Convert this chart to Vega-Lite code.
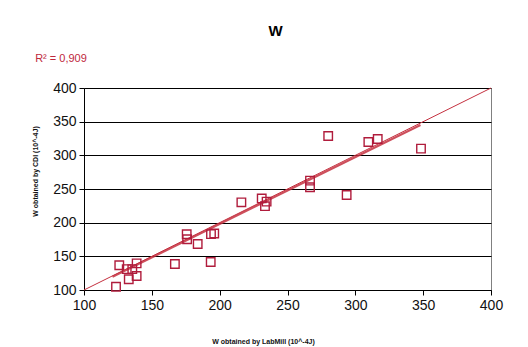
{
  "$schema": "https://vega.github.io/schema/vega-lite/v6.json",
  "width": 407,
  "height": 202,
  "autosize": "none",
  "padding": {"left": 84, "top": 88, "right": 37, "bottom": 57},
  "background": "white",
  "config": {
    "view": {"stroke": "#808080", "strokeWidth": 1},
    "font": "Liberation Sans"
  },
  "title": {
    "text": "W",
    "fontSize": 15,
    "fontWeight": "bold",
    "color": "#000000",
    "anchor": "middle",
    "dx": -12,
    "offset": 14
  },
  "datasets": {
    "points": [
      {"labmill": 123.6, "cdi": 104.9},
      {"labmill": 126, "cdi": 136.7},
      {"labmill": 131.5, "cdi": 131},
      {"labmill": 133, "cdi": 116},
      {"labmill": 135.6, "cdi": 131},
      {"labmill": 138.8, "cdi": 139.6},
      {"labmill": 138.8, "cdi": 120.8},
      {"labmill": 167, "cdi": 138.6},
      {"labmill": 175.7, "cdi": 182.7},
      {"labmill": 176, "cdi": 175.4},
      {"labmill": 183.8, "cdi": 168.3},
      {"labmill": 193.4, "cdi": 141.6},
      {"labmill": 193.6, "cdi": 183},
      {"labmill": 196, "cdi": 184},
      {"labmill": 216, "cdi": 230.2},
      {"labmill": 231, "cdi": 236},
      {"labmill": 233.4, "cdi": 224.5},
      {"labmill": 234.6, "cdi": 231.2},
      {"labmill": 266.6, "cdi": 262.4},
      {"labmill": 266.6, "cdi": 252.5},
      {"labmill": 280, "cdi": 328.7},
      {"labmill": 293.6, "cdi": 241},
      {"labmill": 309.6, "cdi": 319.8},
      {"labmill": 316.5, "cdi": 324.3},
      {"labmill": 348.4, "cdi": 309.9}
    ],
    "identity": [
      {"labmill": 100, "cdi": 100},
      {"labmill": 400, "cdi": 400}
    ],
    "trend": [
      {"labmill": 121, "cdi": 119.6},
      {"labmill": 348, "cdi": 345}
    ],
    "note": [
      {"label": "R² = 0,909", "labmill": 64, "cdi": 443}
    ]
  },
  "encoding": {
    "x": {
      "field": "labmill",
      "type": "quantitative",
      "scale": {"domain": [100, 400], "nice": false, "zero": false},
      "axis": {
        "title": "W obtained by LabMill (10^-4J)",
        "values": [100, 150, 200, 250, 300, 350, 400],
        "grid": false,
        "labelFlush": false,
        "domainColor": "#000000",
        "tickColor": "#000000",
        "tickSize": 5,
        "labelFontSize": 14,
        "labelColor": "#111111",
        "labelPadding": 3,
        "titleFontSize": 7,
        "titleFontWeight": "bold",
        "titleColor": "#111111",
        "titleX": 179,
        "titleY": 47
      }
    },
    "y": {
      "field": "cdi",
      "type": "quantitative",
      "scale": {"domain": [100, 400], "nice": false, "zero": false},
      "axis": {
        "title": "W obtained by CDI (10^-4J)",
        "values": [100, 150, 200, 250, 300, 350, 400],
        "grid": true,
        "labelFlush": false,
        "gridColor": "#000000",
        "gridWidth": 1,
        "domainColor": "#000000",
        "tickColor": "#000000",
        "tickSize": 5,
        "labelFontSize": 14,
        "labelColor": "#111111",
        "labelPadding": 3,
        "titleFontSize": 7,
        "titleFontWeight": "bold",
        "titleColor": "#111111",
        "titleAngle": -90,
        "titleX": -46,
        "titleY": 83
      }
    }
  },
  "layer": [
    {
      "data": {"name": "identity"},
      "mark": {"type": "line", "color": "#c4303f", "strokeWidth": 1},
      "encoding": {}
    },
    {
      "data": {"name": "trend"},
      "mark": {"type": "line", "color": "#c4303f", "strokeWidth": 2.2, "opacity": 0.85},
      "encoding": {}
    },
    {
      "data": {"name": "points"},
      "mark": {"type": "point", "shape": "square", "filled": false, "size": 72, "stroke": "#b01c3c", "strokeWidth": 1.4, "opacity": 1},
      "encoding": {}
    },
    {
      "data": {"name": "note"},
      "mark": {"type": "text", "align": "left", "baseline": "middle", "fontSize": 11, "color": "#c0283c", "clip": false},
      "encoding": {"text": {"field": "label"}}
    }
  ]
}
